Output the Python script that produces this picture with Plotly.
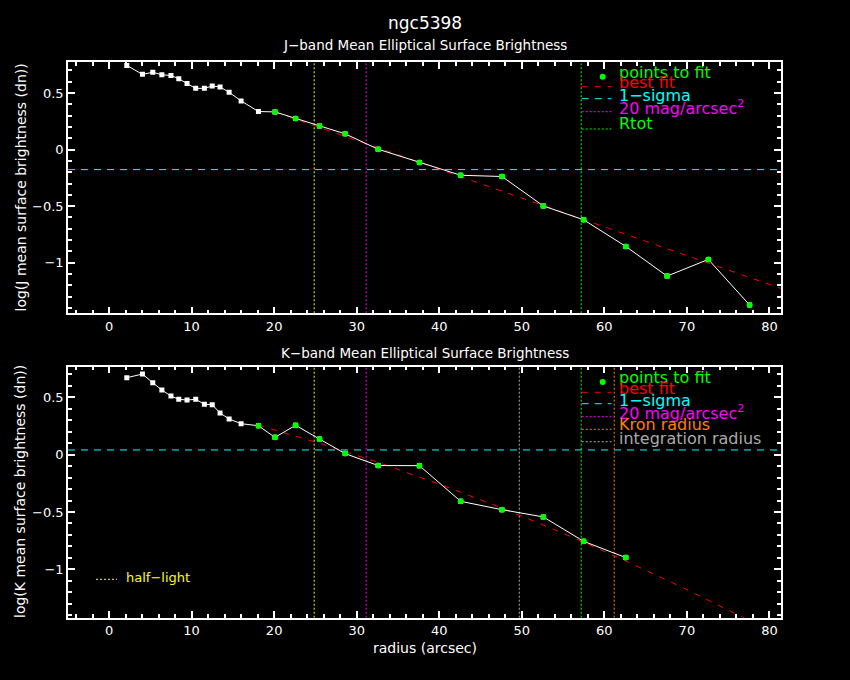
import numpy as np
import plotly.graph_objects as go

# ---------------- data ----------------
radius = [2.15, 4.05, 5.3, 6.4, 7.5, 8.45, 9.45, 10.5, 11.55, 12.5, 13.45, 14.55, 16.0, 18.1,
          20.1, 22.6, 25.5, 28.6, 32.6, 37.6, 42.6, 47.6, 52.6, 57.5, 62.6, 67.6, 72.6, 77.6]
j_sb = [0.744, 0.665, 0.683, 0.662, 0.654, 0.627, 0.583, 0.541, 0.541, 0.562, 0.553, 0.506, 0.430, 0.336,
        0.333, 0.274, 0.209, 0.139, 0.003, -0.115, -0.227, -0.238, -0.498, -0.621, -0.856, -1.118, -0.971, -1.374]
k_sb = [0.671, 0.703, 0.627, 0.564, 0.511, 0.483, 0.476, 0.483, 0.439, 0.436, 0.363, 0.311, 0.270,
        0.252, 0.151, 0.256, 0.136, 0.009, -0.095, -0.096, -0.407, -0.480, -0.543, -0.756, -0.898]
j_fit_first = 14          # index of first "point to fit" (J)
k_fit_first = 13          # index of first "point to fit" (K)
fit_r0 = 20.0
j_fit_coef = [0.335, -0.02544, 0.0]        # y = c0 + c1*(r-r0) + c2*(r-r0)^2
k_fit_coef = [0.218, -0.02095, -0.000139]
j_fit_range = [20.1, 82.0]
k_fit_range = [18.1, 78.0]
j_sigma = -0.177
k_sigma = 0.041
half_light = 24.85
mag20_radius = 31.15
r_tot = 57.2
kron_radius = 61.2
integ_radius = 49.7

x_range = [-4.97, 81.4]
j_y_range = [-1.447, 0.774]
k_y_range = [-1.422, 0.767]
x_ticks = [0, 10, 20, 30, 40, 50, 60, 70, 80]
y_ticks = [-1, -0.5, 0, 0.5]

# ---------------- styling ----------------
W, H = 850, 680
ML, MR, MT, MB = 68, 69, 62, 62
PW, PH = W - ML - MR, H - MT - MB
GREEN, RED, CYAN, MAGENTA = '#00ff00', '#ff0000', '#00ffff', '#ff00ff'
YELLOW, ORANGE, GREY, WHITE = '#ffff00', '#ff8000', '#aaaaaa', '#ffffff'
FONT = 'DejaVu Sans'


def px(xp):
    return (xp - ML) / PW


def py(yp):
    return (MT + PH - yp) / PH


def fit_curve(coef, rng):
    r = np.linspace(rng[0], rng[1], 200)
    u = r - fit_r0
    return r, coef[0] + coef[1] * u + coef[2] * u ** 2


fig = go.Figure()

panels = [
    dict(xa='x', ya='y', sb=j_sb, first=j_fit_first, coef=j_fit_coef, rng=j_fit_range),
    dict(xa='x2', ya='y2', sb=k_sb, first=k_fit_first, coef=k_fit_coef, rng=k_fit_range),
]
for p in panels:
    r = radius[:len(p['sb'])]
    fr, fy = fit_curve(p['coef'], p['rng'])
    fig.add_trace(go.Scatter(x=fr, y=fy, mode='lines', xaxis=p['xa'], yaxis=p['ya'],
                             line=dict(color=RED, width=1, dash='6px,7px'), hoverinfo='skip'))
    fig.add_trace(go.Scatter(x=r, y=p['sb'], mode='lines+markers', xaxis=p['xa'], yaxis=p['ya'],
                             line=dict(color=WHITE, width=1),
                             marker=dict(symbol='square', size=5, color=WHITE)))
    f = p['first']
    fig.add_trace(go.Scatter(x=r[f:], y=p['sb'][f:], mode='markers', xaxis=p['xa'], yaxis=p['ya'],
                             marker=dict(symbol='circle', size=6, color=GREEN)))

shapes = []
# horizontal 1-sigma lines
for xa, ya, val in [('x', 'y', j_sigma), ('x2', 'y2', k_sigma)]:
    shapes.append(dict(type='line', xref=xa + ' domain', yref=ya, x0=0, x1=1, y0=val, y1=val,
                       line=dict(color=CYAN, width=1, dash='7px,6px'), layer='below'))
# vertical lines
vlines_j = [(half_light, YELLOW), (mag20_radius, MAGENTA), (r_tot, GREEN)]
vlines_k = [(half_light, YELLOW), (mag20_radius, MAGENTA), (integ_radius, GREY),
            (r_tot, GREEN), (kron_radius, ORANGE)]
for xa, ya, vl in [('x', 'y', vlines_j), ('x2', 'y2', vlines_k)]:
    for val, col in vl:
        shapes.append(dict(type='line', xref=xa, yref=ya + ' domain', x0=val, x1=val, y0=0, y1=1,
                           line=dict(color=col, width=1, dash='2px,2px'), layer='below'))

annotations = []


def text(xp, yp, s, col, size, xanchor='left'):
    annotations.append(dict(x=px(xp), y=py(yp), xref='paper', yref='paper', text=s, showarrow=False,
                            xanchor=xanchor, yanchor='middle',
                            font=dict(color=col, size=size, family=FONT)))


def legline(yp, col, dash, x0=581.7, x1=611.5):
    shapes.append(dict(type='line', xref='paper', yref='paper', x0=px(x0), x1=px(x1),
                       y0=py(yp), y1=py(yp), line=dict(color=col, width=1, dash=dash)))


def legdot(xp, yp):
    shapes.append(dict(type='circle', xref='paper', yref='paper', xsizemode='pixel', ysizemode='pixel',
                       xanchor=px(xp), yanchor=py(yp), x0=-3, x1=3, y0=-3, y1=3,
                       fillcolor=GREEN, line=dict(width=0)))


LS = 16
# J legend
legdot(602.7, 76.7)
text(617, 72.5, 'points to fit', GREEN, LS)
text(617, 82.5, 'best fit', RED, LS)
legline(86.7, RED, '6px,7px')
text(617, 95.5, '1\u2212sigma', CYAN, LS)
legline(98.7, CYAN, '7px,6px')
text(617, 107.5, '20 mag/arcsec<sup>2</sup>', MAGENTA, LS)
legline(111.7, MAGENTA, '2px,2px')
text(617, 123.5, 'Rtot', GREEN, LS)
legline(129, GREEN, '2px,2px')

# K legend
legdot(602.7, 382)
text(617, 377.5, 'points to fit', GREEN, LS)
text(617, 388, 'best fit', RED, LS)
legline(392.3, RED, '6px,7px')
text(617, 400.5, '1\u2212sigma', CYAN, LS)
legline(403.7, CYAN, '7px,6px')
text(617, 412.5, '20 mag/arcsec<sup>2</sup>', MAGENTA, LS)
legline(416.7, MAGENTA, '2px,2px')
text(617, 425, 'Kron radius', ORANGE, LS)
legline(429.3, ORANGE, '2px,2px')
text(617, 438.5, 'integration radius', GREY, LS)
legline(441.7, GREY, '2px,2px')

# half-light legend
legline(579.3, YELLOW, '2px,2px', 96, 117)
text(124, 577, 'half\u2212light', YELLOW, 13)

# titles
text(425, 23, 'ngc5398', WHITE, 17, 'center')
text(425, 45, 'J\u2212band Mean Elliptical Surface Brightness', WHITE, 13.5, 'center')
text(425, 353, 'K\u2212band Mean Elliptical Surface Brightness', WHITE, 13.5, 'center')
text(425, 648, 'radius (arcsec)', WHITE, 14, 'center')
for yc, s in [(187.5, 'log(J mean surface brightness (dn))'), (492, 'log(K mean surface brightness (dn))')]:
    annotations.append(dict(x=px(20), y=py(yc), xref='paper', yref='paper', text=s, showarrow=False,
                            textangle=-90, xanchor='center', yanchor='middle',
                            font=dict(color=WHITE, size=14, family=FONT)))

xaxis_common = dict(range=x_range, tickvals=x_ticks, ticks='inside', ticklen=7, tickwidth=1.5,
                    tickcolor=WHITE, showline=True, linecolor=WHITE, linewidth=1.5, mirror='allticks',
                    showgrid=False, zeroline=False, tickfont=dict(size=13, color=WHITE, family=FONT),
                    minor=dict(dtick=2, tick0=0, ticks='inside', ticklen=4, tickcolor=WHITE, tickwidth=1.5,
                               showgrid=False),
                    domain=[0, 1])
yaxis_common = dict(tickvals=y_ticks, ticks='inside', ticklen=7, tickwidth=1.5,
                    tickcolor=WHITE, showline=True, linecolor=WHITE, linewidth=1.5, mirror='allticks',
                    showgrid=False, zeroline=False, tickfont=dict(size=13, color=WHITE, family=FONT),
                    minor=dict(dtick=0.1, tick0=0, ticks='inside', ticklen=4, tickcolor=WHITE, tickwidth=1.5,
                               showgrid=False))

j_top, j_bot = 61.7, 313.3
k_top, k_bot = 366.7, 617.7

fig.update_layout(
    width=W, height=H, margin=dict(l=ML, r=MR, t=MT, b=MB, pad=0),
    paper_bgcolor='black', plot_bgcolor='black', showlegend=False,
    font=dict(family=FONT, color=WHITE),
    xaxis=dict(**xaxis_common, anchor='y'),
    yaxis=dict(**yaxis_common, range=j_y_range, anchor='x', domain=[py(j_bot), min(1, py(j_top))]),
    xaxis2=dict(**xaxis_common, anchor='y2'),
    yaxis2=dict(**yaxis_common, range=k_y_range, anchor='x2', domain=[max(0, py(k_bot)), py(k_top)]),
    shapes=shapes, annotations=annotations,
)

fig.write_html('out.html', config={'displayModeBar': False},
               post_script="document.body.style.margin='0';")
